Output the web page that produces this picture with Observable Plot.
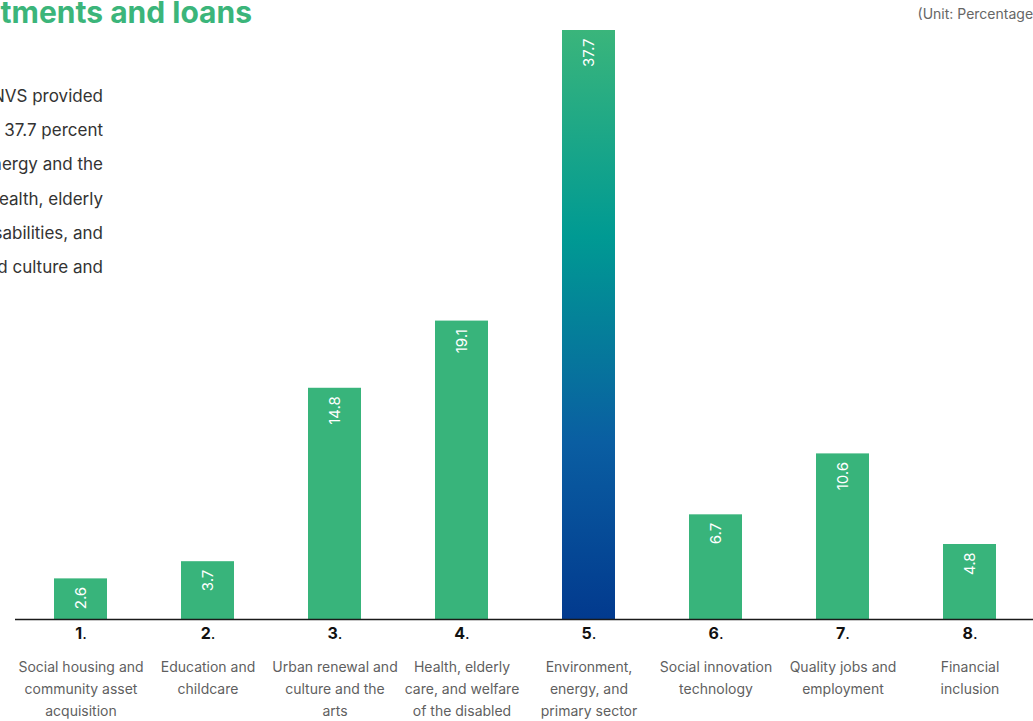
<!DOCTYPE html>
<html>
<head>
<meta charset="utf-8">
<script src="https://cdn.jsdelivr.net/npm/d3@7"></script>
<script src="https://cdn.jsdelivr.net/npm/@observablehq/plot@0.6"></script>
<style>
  html, body { margin: 0; padding: 0; background: #fff; overflow: hidden; }
  #wrap { position: relative; width: 1033px; height: 721px; font-family: Inter, "Noto Sans", sans-serif; }
  #chart { position: absolute; left: 0; top: 0; }
  .title { position: absolute; right: calc(1033px - 252px); top: -6px; white-space: nowrap; font-weight: 700; font-size: 30px; color: #3bb57a; letter-spacing: 0px; }
  .unit { position: absolute; right: -5px; top: 5px; white-space: nowrap; font-size: 14px; color: #666; }
  .para { position: absolute; right: calc(1033px - 103px); top: 79px; text-align: right; white-space: nowrap; font-size: 17px; line-height: 34.2px; color: #333; }
</style>
</head>
<body>
<div id="wrap">
  <div id="chart"></div>
  <div class="title">Social impact investments and loans</div>
  <div class="unit">(Unit: Percentage)</div>
  <div class="para">
    Of the total social finance supplied, NVS provided<br>
    the largest share to the sector, 37.7 percent<br>
    to the environment, energy and the<br>
    primary sector, followed by health, elderly<br>
    care, and welfare of people with disabilities, and<br>
    urban renewal and culture and
  </div>
</div>
<script>
const numbers = ["1", "2", "3", "4", "5", "6", "7", "8"];
const categories = [
  "Social housing and\ncommunity asset\nacquisition",
  "Education and\nchildcare",
  "Urban renewal and\nculture and the\narts",
  "Health, elderly\ncare, and welfare\nof the disabled",
  "Environment,\nenergy, and\nprimary sector",
  "Social innovation\ntechnology",
  "Quality jobs and\nemployment",
  "Financial\ninclusion"
];
const values = [2.6, 3.7, 14.8, 19.1, 37.7, 6.7, 10.6, 4.8];
const highlight = "5";

const data = numbers.map((n, i) => ({num: n, cat: categories[i], value: values[i]}));

const chart = Plot.plot({
  width: 1033,
  height: 721,
  marginLeft: 17,
  marginRight: 0,
  marginTop: 30,
  marginBottom: 102,
  style: {fontFamily: "Inter, 'Noto Sans', sans-serif", background: "transparent"},
  x: {type: "band", domain: numbers, paddingInner: 0.58, paddingOuter: 0.29, axis: null},
  y: {domain: [0, 37.7], axis: null},
  marks: [
    Plot.barY(data.filter(d => d.num !== highlight), {x: "num", y: "value", fill: "#38b47b"}),
    Plot.barY(data.filter(d => d.num === highlight), {x: "num", y: "value", fill: "url(#hlgrad)"}),
    Plot.ruleY([0], {stroke: "#1a1a1a", strokeWidth: 1.5}),
    Plot.text(data, {x: "num", y: "value", text: d => d.value.toFixed(1), rotate: -90, textAnchor: "end", dy: 8, fill: "white", fontSize: 15}),
    Plot.text(data, {x: "num", y: 0, text: d => d.num + ".", dy: 14, fill: "#111", fontSize: 16, fontWeight: 700}),
    Plot.text(data, {x: "num", y: 0, text: "cat", lineAnchor: "top", dy: 37, lineHeight: 1.57, fill: "#5f5f5f", fontSize: 14})
  ]
});

d3.select(chart).insert("defs", ":first-child").html(`
  <linearGradient id="hlgrad" x1="0" y1="0" x2="0" y2="1">
    <stop offset="0%" stop-color="#3ab57b"/>
    <stop offset="35%" stop-color="#009a93"/>
    <stop offset="70%" stop-color="#0a5ea2"/>
    <stop offset="100%" stop-color="#023a8e"/>
  </linearGradient>`);

// make the period after each category number regular weight
const textGroups = d3.select(chart).selectAll('g[aria-label="text"]').nodes();
d3.select(textGroups[1]).selectAll("text").each(function() {
  const t = d3.select(this);
  const s = t.text();
  if (s.endsWith(".")) {
    t.text(s.slice(0, -1));
    t.append("tspan").attr("font-weight", 400).text(".");
  }
});

// extend the baseline slightly to the left, as in the reference
d3.select(chart).selectAll('g[aria-label="rule"] line').attr("x1", 15);

document.getElementById("chart").appendChild(chart);
</script>
</body>
</html>
